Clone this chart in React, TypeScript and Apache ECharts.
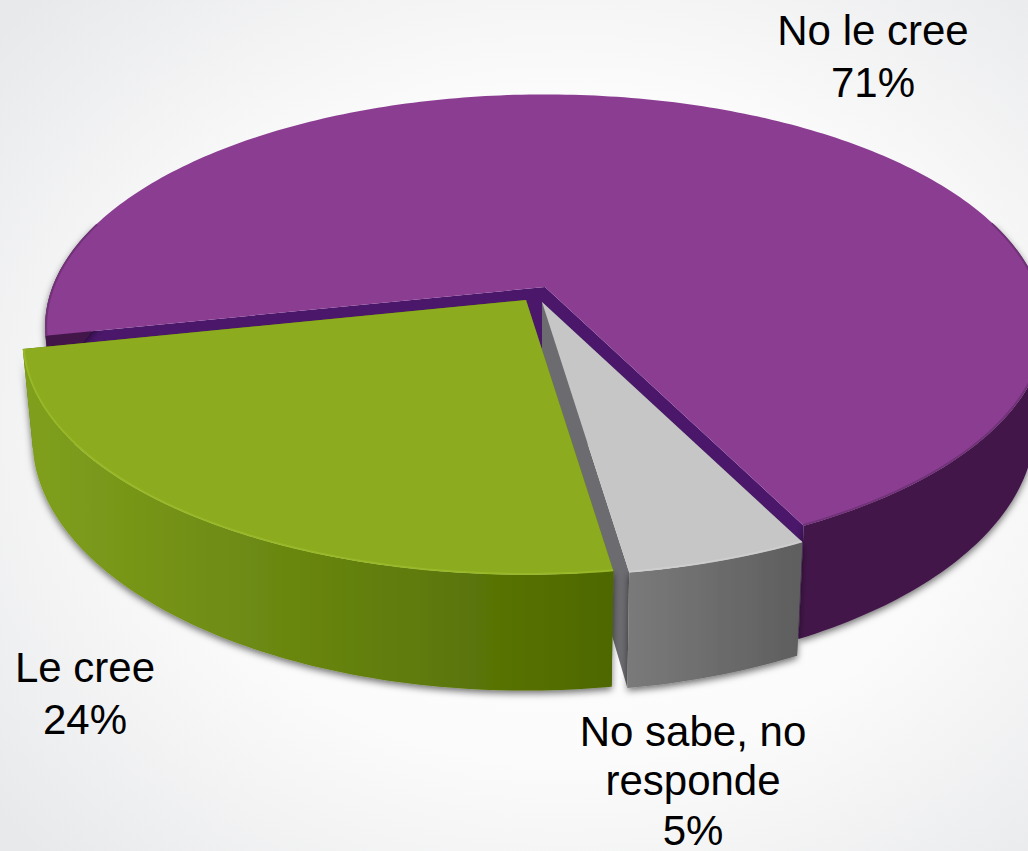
import React, { useEffect, useRef } from "react";
import * as echarts from "echarts";

const categories = ["No le cree", "No sabe, no\nresponde", "Le cree"];
const values = [71, 5, 24];

// Rendering parameters (perspective disc)
const WIDTH = 1028;
const HEIGHT = 851;
const START_ANGLE = 168;
const CX = 540;
const CY = 290;
const AX = 500;
const BY = 229;
const PERSP = 0.174;
const DEPTH = 96;
const BASE_SCALE = 0.98;

const sliceStyles = [
  { ox: 5, oy: -3, r: 0.985, top: "#8b3d92", radial: "#4a176a", wall: ["#42184a", "#42184a"], rim: "#6a2f72", label: [873, 30], step: 52 },
  { ox: 2, oy: 12, r: 0.99, top: "#c6c6c6", radial: "#6c6c70", wall: ["#7a7a7a", "#5e5e5e"], rim: "#d0d0d0", label: [693, 731], step: 49.5 },
  { ox: -14, oy: 10, r: 0.992, top: "#8cab1f", radial: "#5a7508", wall: ["#80a01e", "#4e6800"], rim: "#9cbc2c", label: [85, 667], step: 52 },
];

function project(deg: number, r: number, ox: number, oy: number, base: boolean): number[] {
  const t = (deg * Math.PI) / 180;
  const X = r * Math.cos(t);
  const Y = r * Math.sin(t);
  const w = 1 - PERSP * Y;
  const s = base ? BASE_SCALE : 1;
  return [CX + ox + (s * AX * X) / w, CY + oy + (BY * Y) / w + (base ? DEPTH / w : 0)];
}

function arc(from: number, to: number, r: number, ox: number, oy: number, base: boolean): number[][] {
  const pts: number[][] = [];
  const n = Math.max(2, Math.ceil(Math.abs(to - from)));
  for (let i = 0; i <= n; i++) pts.push(project(from + ((to - from) * i) / n, r, ox, oy, base));
  return pts;
}

// Parts of an angular range on the visible (front) side of the disc
function frontRuns(from: number, to: number): number[][] {
  const runs: number[][] = [];
  let cur: number[] | null = null;
  const n = Math.ceil(to - from);
  for (let i = 0; i <= n; i++) {
    const a = from + ((to - from) * i) / n;
    if (Math.sin((a * Math.PI) / 180) > -0.3) {
      if (!cur) cur = [a, a];
      cur[1] = a;
    } else if (cur) {
      runs.push(cur);
      cur = null;
    }
  }
  if (cur) runs.push(cur);
  return runs;
}

const total = values.reduce((a, b) => a + b, 0);

function renderSlice(params: any, api: any) {
  const idx = params.dataIndex;
  const before = values.slice(0, idx).reduce((a, b) => a + b, 0);
  const from = START_ANGLE + (before / total) * 360;
  const to = from + (api.value(0) / total) * 360;
  const st = sliceStyles[idx];
  const apexTop = [CX + st.ox, CY + st.oy];
  const apexBase = [CX + st.ox, CY + st.oy + DEPTH];
  const children: any[] = [];

  const walls = [from, to].map((a) => ({
    type: "polygon",
    shape: { points: [apexTop, project(a, st.r, st.ox, st.oy, false), project(a, st.r, st.ox, st.oy, true), apexBase] },
    style: { fill: st.radial },
  }));
  children.push(...walls);

  frontRuns(from, to).forEach(([a, b]) => {
    children.push({
      type: "polygon",
      shape: { points: [...arc(a, b, st.r, st.ox, st.oy, false), ...arc(b, a, st.r, st.ox, st.oy, true)] },
      style: {
        fill: new echarts.graphic.LinearGradient(idx === 2 ? 0 : 1, 0, idx === 2 ? 1 : 0, 0, [
          { offset: 0, color: idx === 2 ? st.wall[0] : st.wall[1] },
          { offset: 1, color: idx === 2 ? st.wall[1] : st.wall[0] },
        ]),
        shadowBlur: 7,
        shadowColor: "rgba(0,0,0,0.55)",
        shadowOffsetY: 3,
      },
    });
  });

  children.push({
    type: "polygon",
    shape: { points: [apexTop, ...arc(from, to, st.r, st.ox, st.oy, false)] },
    style: { fill: st.top },
  });

  frontRuns(from, to).forEach(([a, b]) => {
    children.push({
      type: "polyline",
      shape: { points: arc(a, b, st.r * 0.998, st.ox, st.oy, false) },
      style: { fill: "none", stroke: st.rim, lineWidth: 2, opacity: 0.8 },
    });
  });

  const lines = [...String(categories[idx]).split("\n"), `${api.value(0)}%`];
  lines.forEach((line, i) => {
    children.push({
      type: "text",
      style: {
        text: line,
        x: st.label[0],
        y: st.label[1] + i * st.step,
        align: "center",
        verticalAlign: "middle",
        fontFamily: "Liberation Sans",
        fontSize: 42,
        fill: "#000000",
      },
    });
  });

  return { type: "group", children };
}

export default function App() {
  const ref = useRef<HTMLDivElement>(null);
  useEffect(() => {
    document.body.style.margin = "0";
    document.body.style.overflow = "hidden";
    const chart = echarts.init(ref.current!, null, { renderer: "svg" });
    chart.setOption({
      animation: false,
      backgroundColor: new echarts.graphic.RadialGradient(0.55, 0.5, 0.72, [
        { offset: 0, color: "#ffffff" },
        { offset: 0.55, color: "#fbfbfb" },
        { offset: 1, color: "#e8e9eb" },
      ]),
      series: [
        {
          type: "custom",
          coordinateSystem: "none",
          silent: true,
          clip: false,
          renderItem: renderSlice,
          data: values.map((v, i) => ({ name: categories[i], value: [v] })),
        },
      ],
    });
    return () => chart.dispose();
  }, []);
  return <div ref={ref} style={{ width: WIDTH, height: HEIGHT }} />;
}
